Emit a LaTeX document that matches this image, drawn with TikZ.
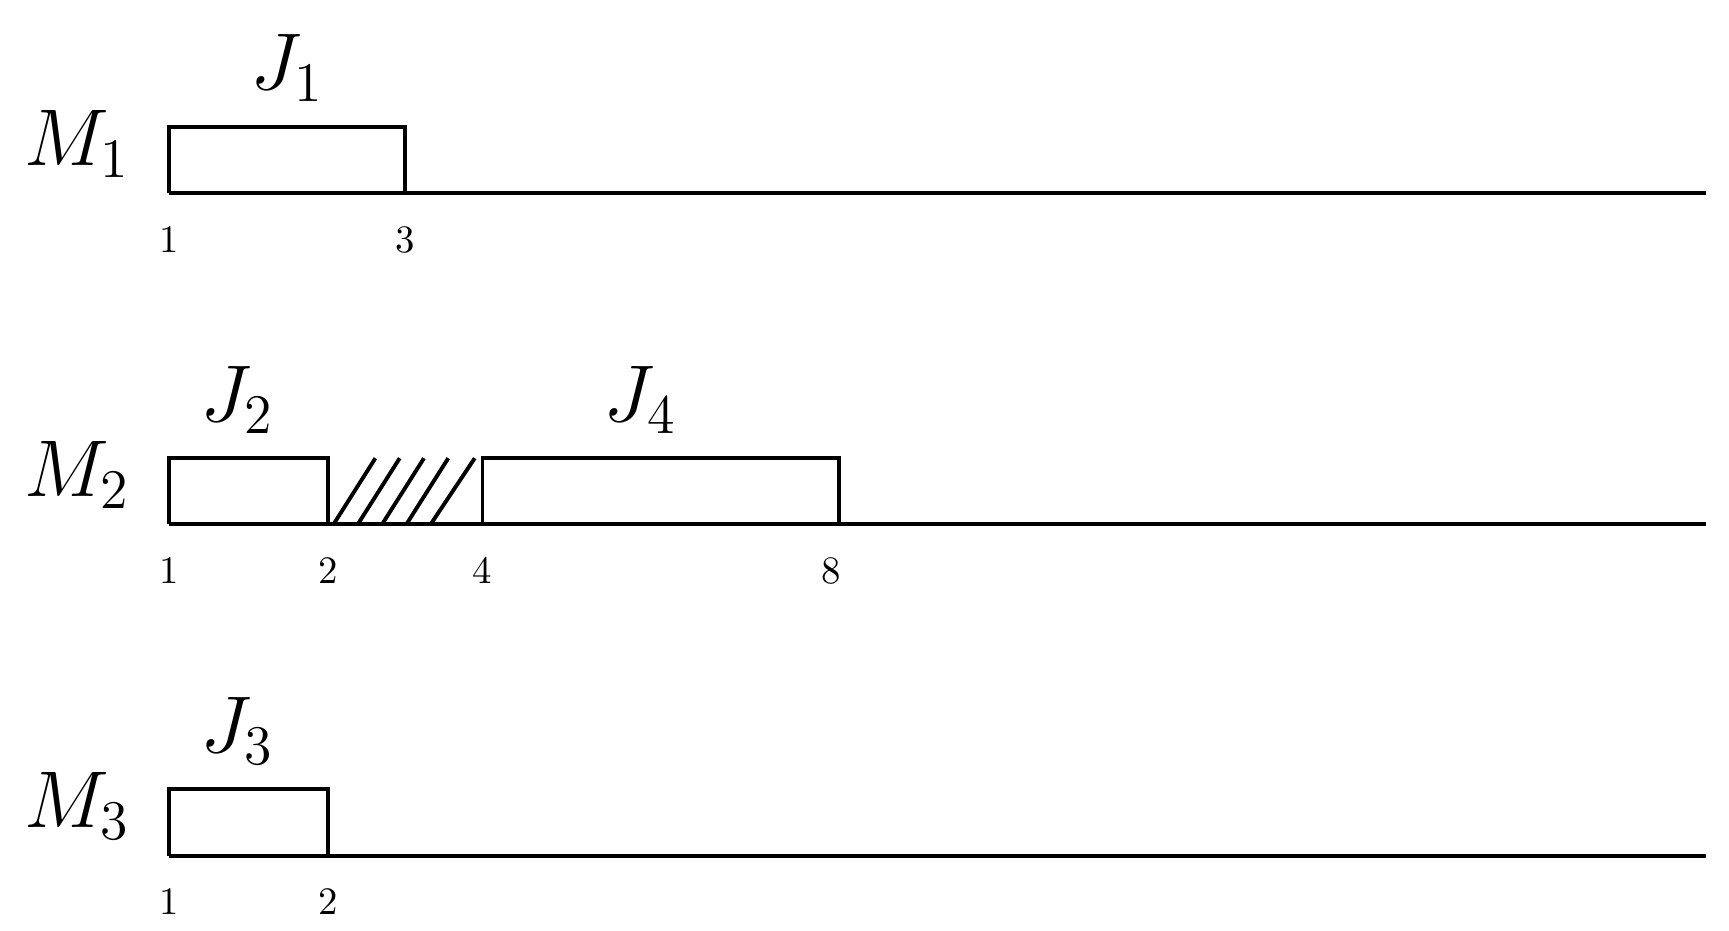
\documentclass[tikz,border=0pt]{standalone}
\begin{document}
\begin{tikzpicture}[x=0.01cm,y=-0.01cm,line width=1pt,
  job/.style={draw,line width=1pt},
  lbl/.style={font=\fontsize{20}{22}\selectfont},
  tick/.style={font=\fontsize{10}{12}\selectfont}]
\useasboundingbox (0,0) rectangle (1566,843);
% M1
\draw (153,175) -- (1545,175);
\draw[job] (153,175) -- (153,115) -- (367,115) -- (367,175);
\node[lbl] (m1) at (70,130) {$M_1$};
\node[lbl] (j1) at (260,62) {$J_1$};
\node[tick] (t11) at (153,217) {1};
\node[tick] (t13) at (367,217) {3};
% M2
\draw (153,475) -- (1545,475);
\draw[job] (153,475) -- (153,415) -- (297,415) -- (297,475);
\draw[job] (437,475) -- (437,415) -- (760,415) -- (760,475);
\foreach \b/\t in {302/340,324/362,346/384,368/406,390/430}
  \draw (\b,475) -- (\t,415);
\node[lbl] (m2) at (70,430) {$M_2$};
\node[lbl] (j2) at (215,362) {$J_2$};
\node[lbl] (j4) at (580,362) {$J_4$};
\node[tick] (t21) at (153,517) {1};
\node[tick] (t22) at (297,517) {2};
\node[tick] (t24) at (437,517) {4};
\node[tick] (t28) at (753,517) {8};
% M3
\draw (153,775) -- (1545,775);
\draw[job] (153,775) -- (153,715) -- (297,715) -- (297,775);
\node[lbl] (m3) at (70,730) {$M_3$};
\node[lbl] (j3) at (215,662) {$J_3$};
\node[tick] (t31) at (153,817) {1};
\node[tick] (t32) at (297,817) {2};
\end{tikzpicture}
\end{document}
